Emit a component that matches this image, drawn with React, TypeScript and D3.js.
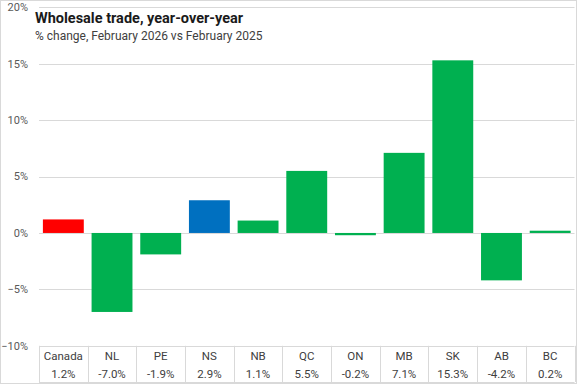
import React from 'react';
import * as d3 from 'd3';

const categories = ['Canada', 'NL', 'PE', 'NS', 'NB', 'QC', 'ON', 'MB', 'SK', 'AB', 'BC'];
const values = [1.2, -7.0, -1.9, 2.9, 1.1, 5.5, -0.2, 7.1, 15.3, -4.2, 0.2];
const valueLabels = ['1.2%', '-7.0%', '-1.9%', '2.9%', '1.1%', '5.5%', '-0.2%', '7.1%', '15.3%', '-4.2%', '0.2%'];
const yTicks = [-10, -5, 0, 5, 10, 15, 20];

const WIDTH = 577;
const HEIGHT = 384;
const FONT = 'Roboto, "Liberation Sans", sans-serif';
const GRID = '#d9d9d9';

// Canada is red, NS blue, everything else green
const barColor = (cat: string) => (cat === 'Canada' ? '#ff0000' : cat === 'NS' ? '#0070c0' : '#00b050');

const App: React.FC = () => {
  const x = d3.scaleBand<string>()
    .domain(categories)
    .range([39, 574.5])
    .paddingInner(0.16)
    .paddingOuter(0.08);

  const y = d3.scaleLinear().domain([-10, 20]).range([345.8, 7.3]);

  const step = x.step();
  const left = x.range()[0];
  const tableTop = y(-10);
  const tableBottom = 382;

  return (
    <div style={{ position: 'absolute', left: 0, top: 0 }}>
      <svg width={WIDTH} height={HEIGHT} style={{ display: 'block', fontFamily: FONT }}>
        <rect x={0} y={0} width={WIDTH} height={HEIGHT} fill="#fff" />

        {/* gridlines + tick labels */}
        {yTicks.map(t => (
          <g key={t}>
            <line x1={left} x2={574.5} y1={Math.round(y(t)) + 0.5} y2={Math.round(y(t)) + 0.5} stroke={GRID} />
            <text x={28} y={y(t)} dy="0.35em" textAnchor="end" fontSize={11} fill="#595959">
              {d3.format('d')(t)}%
            </text>
          </g>
        ))}

        {/* bars */}
        {categories.map((c, i) => {
          const v = values[i];
          const y0 = y(0);
          const yv = y(v);
          return (
            <rect
              key={c}
              x={x(c)}
              width={x.bandwidth()}
              y={Math.min(y0, yv)}
              height={Math.abs(yv - y0)}
              fill={barColor(c)}
            />
          );
        })}

        {/* data table */}
        {d3.range(categories.length + 1).map(k => (
          <line
            key={k}
            x1={Math.round(left + k * step) + 0.5}
            x2={Math.round(left + k * step) + 0.5}
            y1={tableTop}
            y2={tableBottom}
            stroke={GRID}
          />
        ))}
        <line x1={left} x2={574.5} y1={tableBottom + 0.5} y2={tableBottom + 0.5} stroke={GRID} />
        {categories.map((c, i) => (
          <g key={c} fontSize={11.5} fill="#404040" textAnchor="middle">
            <text x={left + (i + 0.5) * step} y={356} dy="0.35em">{c}</text>
            <text x={left + (i + 0.5) * step} y={374} dy="0.35em">{valueLabels[i]}</text>
          </g>
        ))}

        {/* title */}
        <text x={35} y={23} fontSize={14.5} fontWeight="bold" fill="#1a1a1a">Wholesale trade, year-over-year</text>
        <text x={35} y={40} fontSize={12} fill="#404040">% change, February 2026 vs February 2025</text>

        {/* chart border */}
        <rect x={0.5} y={0.5} width={WIDTH - 1} height={HEIGHT - 1} fill="none" stroke={GRID} />
      </svg>
    </div>
  );
};

export default App;
